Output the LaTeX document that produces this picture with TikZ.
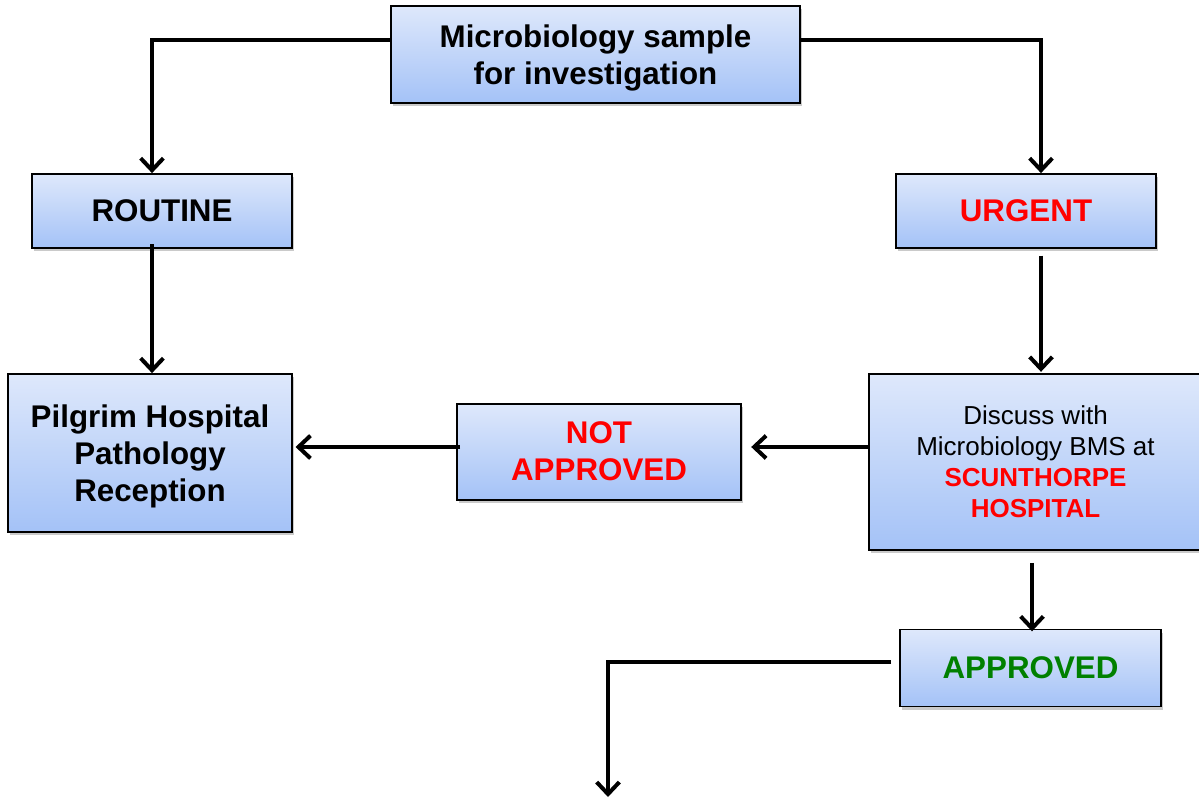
\documentclass[tikz,border=0pt]{standalone}
\usepackage{fontspec}
\setmainfont{Liberation Sans}
\usetikzlibrary{arrows.meta,shadows}
\definecolor{boxtop}{RGB}{222,232,251}
\definecolor{boxbot}{RGB}{164,194,247}
\definecolor{alertred}{RGB}{255,0,0}
\definecolor{okgreen}{RGB}{0,128,0}
\tikzset{
  flowbox/.style={draw=black, line width=1.3pt, top color=boxtop, bottom color=boxbot,
    inner sep=0pt, align=center,
    drop shadow={shadow xshift=1.5pt, shadow yshift=-2.5pt, opacity=0.35, fill=black!60}},
  bigtext/.style={font=\bfseries\fontsize{23.5}{27.5}\selectfont},
  flowline/.style={line width=3.5pt, line join=miter},
  flowarrow/.style={flowline, -{Straight Barb[length=9pt,width=17pt,line width=3pt]}}
}
\begin{document}
\begin{tikzpicture}[x=0.75pt,y=-0.75pt]
\useasboundingbox (0,0) rectangle (1199,798);

\node[flowbox, bigtext, text depth=0pt, minimum width=409*0.75pt, minimum height=97*0.75pt] (top) at (595.5,54.5)
  {Microbiology sample\\for investigation};
\node[flowbox, bigtext, minimum width=260*0.75pt, minimum height=74*0.75pt] (routine) at (162,211) {ROUTINE};
\node[flowbox, bigtext, text=alertred, minimum width=260*0.75pt, minimum height=74*0.75pt] (urgent) at (1026,211) {URGENT};
\node[flowbox, bigtext, text depth=-1pt, minimum width=284*0.75pt, minimum height=158*0.75pt] (pilgrim) at (150,453)
  {Pilgrim Hospital\\Pathology\\Reception};
\node[flowbox, bigtext, text=alertred, text depth=1pt, minimum width=284*0.75pt, minimum height=96*0.75pt] (notapp) at (599,452)
  {NOT\\APPROVED};
\node[flowbox, minimum width=333*0.75pt, minimum height=176*0.75pt, font=\fontsize{19.5}{23.3}\selectfont] (discuss) at (1035.5,462)
  {Discuss with\\Microbiology BMS at\\{\bfseries\color{alertred}SCUNTHORPE}\\{\bfseries\color{alertred}HOSPITAL}};
\node[flowbox, bigtext, text=okgreen, minimum width=261*0.75pt, minimum height=77*0.75pt] (approved) at (1030.5,668) {APPROVED};

% bend and free-end coordinates
\coordinate (tl) at (152,40);
\coordinate (tr) at (1041,40);
\coordinate (al) at (608,662);
\coordinate (aend) at (608,797);

\draw[flowarrow] (top.west |- tl) -- (tl) -- (tl |- routine.north);
\draw[flowarrow] (top.east |- tr) -- (tr) -- (tr |- urgent.north);
\draw[flowarrow] ([yshift=3.5pt]routine.south -| tl) -- (tl |- pilgrim.north);
\draw[flowarrow] ([yshift=-5pt]urgent.south -| tr) -- ([yshift=1pt]tr |- discuss.north);
\draw[flowarrow] (discuss.west |- 0,447) -- ([xshift=7pt]notapp.east |- 0,447);
\draw[flowarrow] ([xshift=3pt]notapp.west |- 0,447) -- ([xshift=2pt]pilgrim.east |- 0,447);
\draw[flowarrow] ([yshift=-9pt]discuss.south -| 1032,0) -- ([yshift=-2pt]approved.north -| 1032,0);
\draw[flowarrow] ([xshift=-6pt]approved.west |- al) -- (al) -- (aend);
\end{tikzpicture}
\end{document}
